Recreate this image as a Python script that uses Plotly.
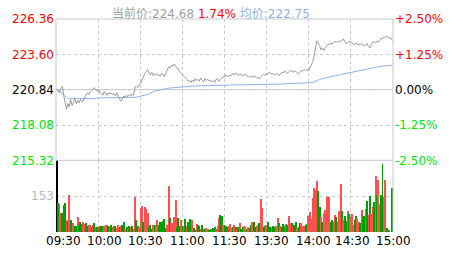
import plotly.graph_objects as go

# ---------------- data ----------------
prev_close = 220.84
price_ticks = [215.32, 218.08, 220.84, 223.60, 226.36]
price_tick_text = ["215.32", "218.08", "220.84", "223.60", "226.36"]
pct_tick_text = ["-2.50%", "-1.25%", "0.00%", "+1.25%", "+2.50%"]
tick_side = ["down", "down", "flat", "up", "up"]
vol_max = 306
vol_ticks = [153]
time_labels = ["09:30", "10:00", "10:30", "11:00", "11:30", "13:30", "14:00", "14:30", "15:00"]
grid_minutes = [30, 60, 90, 120, 150, 180, 210]

price = [
    220.90, 220.75, 220.60, 220.95, 221.10, 220.40, 219.90, 219.30, 219.75, 219.50,
    220.05, 219.60, 219.85, 220.20, 219.75, 220.00, 219.80, 220.10, 219.90, 219.95,
    220.25, 220.40, 220.60, 220.45, 220.70, 220.80, 220.90, 221.00, 220.85, 220.70,
    220.85, 220.60, 220.55, 220.40, 220.70, 220.55, 220.40, 220.65, 220.50, 220.60,
    220.45, 220.55, 220.35, 220.60, 220.30, 220.10, 219.95, 220.15, 220.35, 220.25,
    220.40, 220.30, 220.45, 220.35, 220.50, 220.40, 221.05, 221.10, 221.00, 221.20,
    221.35, 221.60, 221.90, 222.10, 222.25, 222.40, 222.15, 222.00, 222.20, 221.95,
    222.10, 221.95, 222.05, 222.00, 221.90, 222.10, 222.05, 221.85, 222.15, 222.35,
    222.60, 222.55, 222.75, 222.65, 222.85, 222.70, 222.55, 222.35, 222.25, 222.10,
    222.00, 221.90, 221.80, 221.65, 221.50, 221.55, 221.40, 221.60, 221.45, 221.70,
    221.55, 221.65, 221.50, 221.75, 221.60, 221.45, 221.70, 221.55, 221.65, 221.50,
    221.60, 221.45, 221.55, 221.40, 221.65, 221.70, 221.50, 221.60, 221.75, 221.85,
    221.80, 222.00, 221.90, 221.85, 222.00, 221.95, 222.10, 222.00, 222.15, 222.05,
    221.95, 222.10, 222.00, 221.90, 222.05, 222.00, 221.95, 221.85, 221.80, 221.90,
    221.80, 221.95, 221.85, 221.75, 221.80, 221.70, 221.85, 221.95, 222.05, 221.95,
    222.10, 222.05, 222.20, 222.15, 222.05, 222.10, 222.00, 222.05, 222.10, 221.95,
    222.05, 222.20, 222.15, 222.30, 222.20, 222.10, 222.25, 222.30, 222.35, 222.20,
    222.30, 222.25, 222.15, 222.05, 222.20, 222.35, 222.30, 222.40, 222.35, 222.40,
    222.30, 222.55, 222.70, 223.00, 223.45, 224.20, 224.65, 224.50, 224.30, 223.95,
    224.10, 223.90, 224.05, 224.20, 224.40, 224.35, 224.50, 224.40, 224.55, 224.60,
    224.55, 224.60, 224.58, 224.62, 224.70, 224.80, 224.60, 224.45, 224.50, 224.55,
    224.62, 224.50, 224.45, 224.35, 224.50, 224.40, 224.30, 224.45, 224.35, 224.40,
    224.25, 224.35, 224.45, 224.20, 224.10, 224.40, 224.55, 224.60, 224.50, 224.65,
    224.55, 224.70, 224.85, 224.80, 224.95, 224.90, 225.00, 224.95, 224.85, 224.90,
    224.68,
]

avg_price = [
    220.90, 220.80, 220.70, 220.60, 220.50, 220.40, 220.30, 220.24, 220.18, 220.15,
    220.14, 220.14, 220.14, 220.14, 220.14, 220.14, 220.14, 220.14, 220.14, 220.14,
    220.14, 220.14, 220.14, 220.14, 220.14, 220.14, 220.14, 220.14, 220.14, 220.20,
    220.20, 220.20, 220.20, 220.20, 220.20, 220.20, 220.20, 220.20, 220.20, 220.20,
    220.20, 220.20, 220.20, 220.20, 220.20, 220.20, 220.20, 220.20, 220.20, 220.20,
    220.21, 220.21, 220.21, 220.21, 220.21, 220.21, 220.24, 220.26, 220.28, 220.30,
    220.31, 220.34, 220.37, 220.40, 220.43, 220.46, 220.52, 220.58, 220.64, 220.69,
    220.72, 220.75, 220.78, 220.81, 220.83, 220.85, 220.88, 220.90, 220.92, 220.94,
    220.96, 220.97, 220.98, 220.99, 221.02, 221.04, 221.05, 221.06, 221.07, 221.08,
    221.09, 221.10, 221.11, 221.12, 221.12, 221.13, 221.13, 221.13, 221.14, 221.14,
    221.14, 221.14, 221.14, 221.14, 221.14, 221.14, 221.14, 221.14, 221.14, 221.14,
    221.14, 221.14, 221.14, 221.14, 221.14, 221.15, 221.15, 221.15, 221.15, 221.15,
    221.16, 221.17, 221.18, 221.19, 221.20, 221.21, 221.21, 221.22, 221.22, 221.22,
    221.22, 221.22, 221.22, 221.22, 221.22, 221.22, 221.22, 221.22, 221.22, 221.22,
    221.22, 221.23, 221.23, 221.23, 221.24, 221.24, 221.25, 221.25, 221.26, 221.26,
    221.27, 221.27, 221.27, 221.27, 221.27, 221.27, 221.27, 221.27, 221.27, 221.27,
    221.28, 221.29, 221.30, 221.31, 221.32, 221.33, 221.34, 221.34, 221.35, 221.35,
    221.35, 221.35, 221.35, 221.35, 221.35, 221.35, 221.35, 221.35, 221.35, 221.35,
    221.36, 221.37, 221.38, 221.40, 221.44, 221.50, 221.56, 221.60, 221.64, 221.67,
    221.70, 221.73, 221.76, 221.79, 221.82, 221.84, 221.87, 221.89, 221.92, 221.94,
    221.96, 221.98, 222.00, 222.02, 222.04, 222.06, 222.08, 222.10, 222.13, 222.15,
    222.18, 222.20, 222.22, 222.24, 222.26, 222.28, 222.30, 222.32, 222.35, 222.38,
    222.40, 222.43, 222.45, 222.47, 222.49, 222.51, 222.53, 222.55, 222.58, 222.61,
    222.64, 222.66, 222.67, 222.68, 222.69, 222.70, 222.71, 222.72, 222.73, 222.74,
    222.75,
]

volume = [
    900, 124, 118, 79, 79, 114, 121, 48, 45, 156,
    50, 23, 37, 23, 23, 64, 27, 40, 33, 41,
    33, 35, 25, 28, 28, 20, 28, 38, 20, 18,
    22, 15, 25, 25, 22, 28, 30, 25, 20, 30,
    18, 25, 22, 15, 28, 20, 25, 30, 41, 12,
    18, 10, 22, 20, 25, 10, 149, 48, 25, 20,
    100, 110, 40, 105, 95, 80, 20, 27, 12, 27,
    30, 29, 48, 30, 41, 41, 45, 54, 15, 30,
    195, 58, 35, 35, 62, 137, 20, 58, 25, 51,
    25, 25, 55, 25, 40, 52, 20, 48, 15, 8,
    33, 28, 25, 12, 28, 12, 12, 15, 10, 8,
    10, 8, 15, 20, 12, 25, 59, 70, 65, 28,
    28, 25, 20, 25, 31, 15, 18, 28, 18, 15,
    18, 35, 12, 18, 25, 18, 12, 18, 15, 30,
    40, 42, 18, 25, 30, 35, 140, 100, 18, 25,
    27, 40, 20, 20, 20, 25, 18, 25, 57, 35,
    25, 18, 33, 25, 33, 30, 66, 35, 35, 25,
    30, 40, 15, 18, 35, 39, 26, 26, 30, 33,
    66, 84, 52, 142, 188, 178, 215, 174, 105, 63,
    42, 80, 94, 146, 84, 146, 42, 48, 42, 70,
    63, 42, 87, 204, 87, 48, 66, 45, 87, 77,
    63, 77, 28, 48, 66, 56, 42, 36, 91, 63,
    66, 98, 130, 70, 153, 77, 105, 126, 236, 157,
    220, 119, 157, 290, 146, 220, 14, 4, 7, 0,
    188,
]

# r = up minute, g = down minute, k = opening auction
direction = "".join([
    "kgrrgggrgr", "ggrggrgggr", "rggrrgrgrg", "rgggrrrgrg", "rrgrrgrggr",
    "grgrgrrggr", "rrgrrrgggr", "grrggggggr", "rgrrrrgggr", "grgrgggrgg",
    "rggrgrgrrg", "grggrrrggr", "gggrrrgrgr", "grggrrgrgg", "rggrrgrrgg",
    "rgggrggrrg", "rgggrgrrgr", "ggrggrrrgg", "rrrrrrrggr", "grrrrrggrr",
    "grrrgrggrg", "rrrggrrgrg", "grgrgrrgrg", "rrggrrggrg", "g",
])

# ---------------- styling ----------------
FONT = "DejaVu Sans, Noto Sans CJK SC"
RED = "#ff0000"
GREEN = "#00e600"
BLACK = "#000000"
GRID = "#c8c8c8"
side_color = {"up": RED, "down": GREEN, "flat": BLACK}
bar_color = {"r": "#ff5050", "g": "#00a000", "k": "#000000"}

minutes = list(range(len(price)))
colors = [bar_color[c] for c in direction]

W, H = 463, 255
ML, MR, MT, MB = 50, 70, 12, 23
plot_w = W - ML - MR
plot_h = H - MT - MB
vol_frac = 74 / plot_h
x_range = [-0.5, 240.5]
# horizontal centres (in plot-area pixels) of the time labels
label_px = [8, 49.5, 91, 134, 176.6, 219, 262, 302, 343.5]

fig = go.Figure()
fig.add_trace(go.Bar(x=minutes, y=volume, marker=dict(color=colors, line=dict(width=0)),
                     width=0.7, xaxis="x", yaxis="y3", hoverinfo="skip"))
fig.add_trace(go.Scatter(x=minutes, y=avg_price, mode="lines",
                         line=dict(color="#8cb0ec", width=1), xaxis="x2", yaxis="y"))
fig.add_trace(go.Scatter(x=minutes, y=price, mode="lines",
                         line=dict(color="#9a9a9a", width=1), xaxis="x2", yaxis="y"))
fig.add_trace(go.Scatter(x=[minutes[0]], y=[prev_close], mode="markers", opacity=0,
                         xaxis="x2", yaxis="y2", hoverinfo="skip"))

left_text = [f'<span style="color:{side_color[s]}">{t}</span>' for t, s in zip(price_tick_text, tick_side)]
right_text = [f'<span style="color:{side_color[s]}">{t}</span>' for t, s in zip(pct_tick_text, tick_side)]

xcommon = dict(range=x_range, tickvals=grid_minutes, showticklabels=False, ticks="",
               showgrid=True, gridcolor=GRID, griddash="3px,3px", gridwidth=1,
               zeroline=False, showline=False, fixedrange=True)

fig.update_layout(
    width=W, height=H,
    margin=dict(l=ML, r=MR, t=MT, b=MB, pad=0),
    paper_bgcolor="white", plot_bgcolor="white",
    showlegend=False, bargap=0,
    font=dict(family=FONT, size=12, color=BLACK),
    xaxis=dict(anchor="y3", **xcommon),
    xaxis2=dict(anchor="y", matches="x", **xcommon),
    yaxis=dict(domain=[vol_frac, 1], anchor="x2", range=[price_ticks[0], price_ticks[-1]],
               tickvals=price_ticks, ticktext=left_text, ticks="", ticklabelstandoff=1,
               showgrid=True, gridcolor=GRID, griddash="3px,3px", zeroline=False,
               showline=False, tickfont=dict(size=12, family=FONT)),
    yaxis2=dict(overlaying="y", side="right", anchor="x2", range=[price_ticks[0], price_ticks[-1]],
                tickvals=price_ticks, ticktext=right_text, ticks="", ticklabelstandoff=1,
                showgrid=False, zeroline=False, showline=False,
                tickfont=dict(size=12, family=FONT)),
    yaxis3=dict(domain=[0, vol_frac], anchor="x", range=[0, vol_max],
                tickvals=vol_ticks, ticktext=[f'<span style="color:#bbbbbb">{v}</span>' for v in vol_ticks],
                ticks="", ticklabelstandoff=1, showgrid=True, gridcolor=GRID, griddash="3px,3px",
                zeroline=False, showline=False, tickfont=dict(size=12, family=FONT)),
)

# frames and the previous-close line
fig.add_shape(type="rect", xref="paper", yref="paper", x0=0, x1=1, y0=vol_frac, y1=1,
              line=dict(color=GRID, width=1), layer="above")
fig.add_shape(type="line", xref="paper", yref="paper", x0=1, x1=1, y0=0, y1=vol_frac,
              line=dict(color=GRID, width=1))
fig.add_shape(type="line", xref="paper", yref="y", x0=0, x1=1, y0=prev_close, y1=prev_close,
              line=dict(color=GRID, width=1), layer="below")

# time labels
for px, t in zip(label_px, time_labels):
    fig.add_annotation(x=px / plot_w, y=0, xref="paper", yref="paper", text=t, showarrow=False,
                       xanchor="center", yanchor="top", yshift=0,
                       font=dict(size=12, family=FONT, color=BLACK))

# header
cur = price[-1]
chg = (cur - prev_close) / prev_close * 100
avg_now = avg_price[-1]
header = (f'<span style="color:#a0a0a0">当前价:{cur:.2f}</span> '
          f'<span style="color:{RED if chg >= 0 else GREEN}">{chg:.2f}%</span> '
          f'<span style="color:#8cb0ec">均价:{avg_now:.2f}</span>')
fig.add_annotation(x=(105 - ML) / plot_w, y=1, xref="paper", yref="paper",
                   text=header, showarrow=False, xanchor="left", yanchor="middle", yshift=6,
                   font=dict(size=12, family=FONT))

fig.write_html("out.html")
